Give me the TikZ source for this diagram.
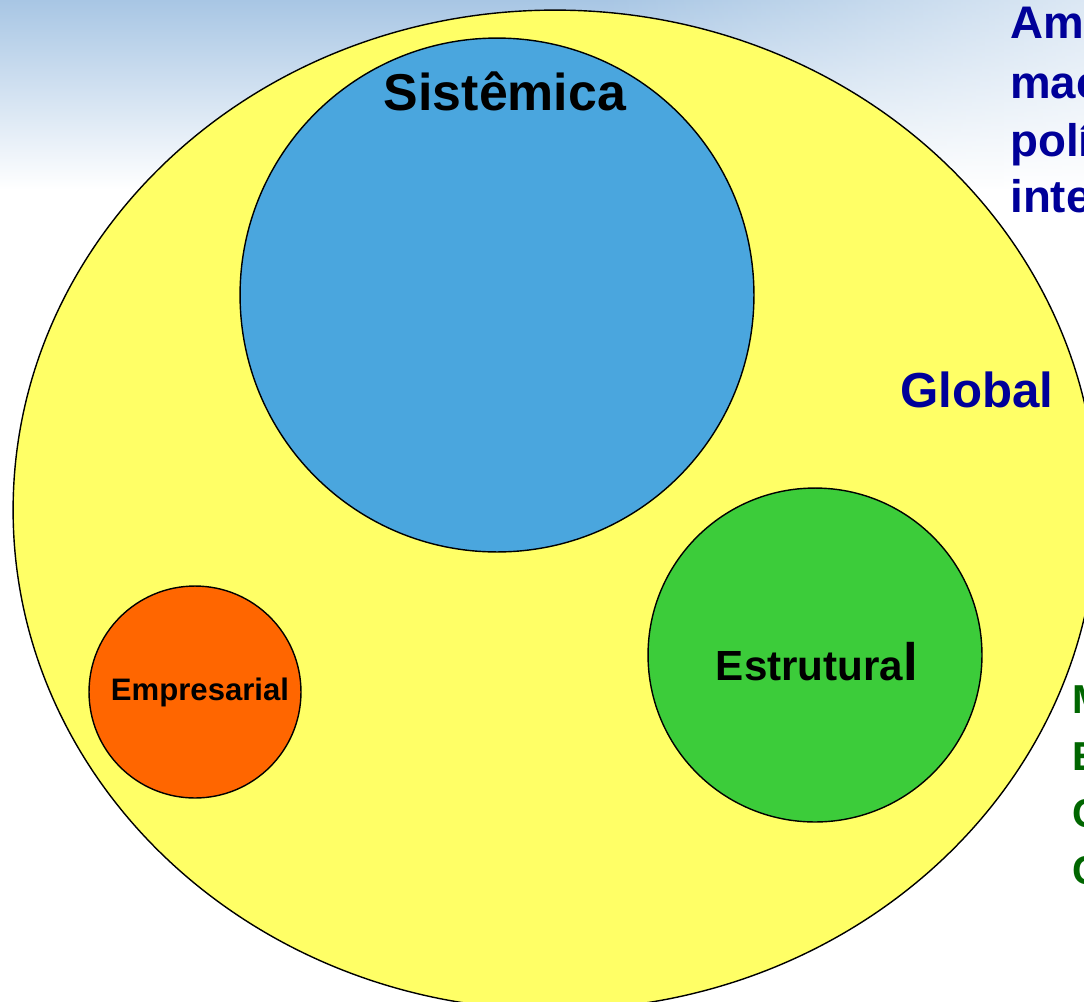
\documentclass[tikz,border=0pt]{standalone}
\usepackage{fontspec}
\setmainfont{Liberation Sans}
\usetikzlibrary{shapes.geometric,fadings}

\definecolor{skyblue}{RGB}{168,198,228}
\definecolor{globalyellow}{RGB}{255,255,102}
\definecolor{systblue}{RGB}{74,166,222}
\definecolor{structgreen}{RGB}{60,204,58}
\definecolor{firmorange}{RGB}{255,102,0}
\definecolor{navytext}{RGB}{0,0,153}
\definecolor{greentext}{RGB}{0,102,0}

\begin{document}
\begin{tikzpicture}[
  x=0.02cm, y=-0.02cm,
  every node/.style={
    inner sep=0pt,
    font=\bfseries,
  },
  level/.style={
    draw=black,
    line width=0.8pt,
  },
  sidetext/.style={
    anchor=base west,
    font=\bfseries\fontsize{26}{30}\selectfont,
  },
]

\useasboundingbox (0,0) rectangle (1084,1001);
\clip (0,0) rectangle (1084,1001);

% background
\shade[top color=skyblue, bottom color=white] (0,0) rectangle (1084,190);
\fill[white, opacity=0.6, path fading=west] (600,0) rectangle (1084,190);

% Outer level
\node[level, ellipse, fill=globalyellow,
      minimum width=21.68cm, minimum height=20cm] (global) at (555,510) {};

% Inner levels
\node[level, circle, fill=systblue, minimum size=10.28cm] (sist) at (497,295) {};
\node[level, circle, fill=structgreen, minimum size=6.68cm] (estr) at (815,655) {};
\node[level, circle, fill=firmorange, minimum size=4.24cm] (empr) at (195,692) {};

% Labels
\node[anchor=base, font=\bfseries\fontsize{29.5}{30}\selectfont] (sistlbl) at (505,110) {Sistêmica};
\node[anchor=base, text=navytext, font=\bfseries\fontsize{28}{28}\selectfont] (globlbl) at (977,407) {Global};
\node[anchor=base, font=\bfseries\fontsize{24}{24}\selectfont] (estrlbl) at (817,680)
  {Estrutura{\fontsize{30}{30}\selectfont l}};
\node[anchor=base, font=\bfseries\fontsize{17.7}{18}\selectfont] (emprlbl) at (200,700) {Empresarial};

% Side texts
\node[sidetext, text=navytext] (amb1) at (1010,38) {Am};
\node[sidetext, text=navytext] (amb2) at (1010,98) {mac};
\node[sidetext, text=navytext] (amb3) at (1010,156) {polí};
\node[sidetext, text=navytext] (amb4) at (1010,212) {inte};

\node[sidetext, text=greentext, font=\bfseries\fontsize{23}{26}\selectfont] (est1) at (1072,713) {M};
\node[sidetext, text=greentext, font=\bfseries\fontsize{23}{26}\selectfont] (est2) at (1072,770) {E};
\node[sidetext, text=greentext, font=\bfseries\fontsize{23}{26}\selectfont] (est3) at (1072,827) {C};
\node[sidetext, text=greentext, font=\bfseries\fontsize{23}{26}\selectfont] (est4) at (1072,884) {C};

\end{tikzpicture}
\end{document}
